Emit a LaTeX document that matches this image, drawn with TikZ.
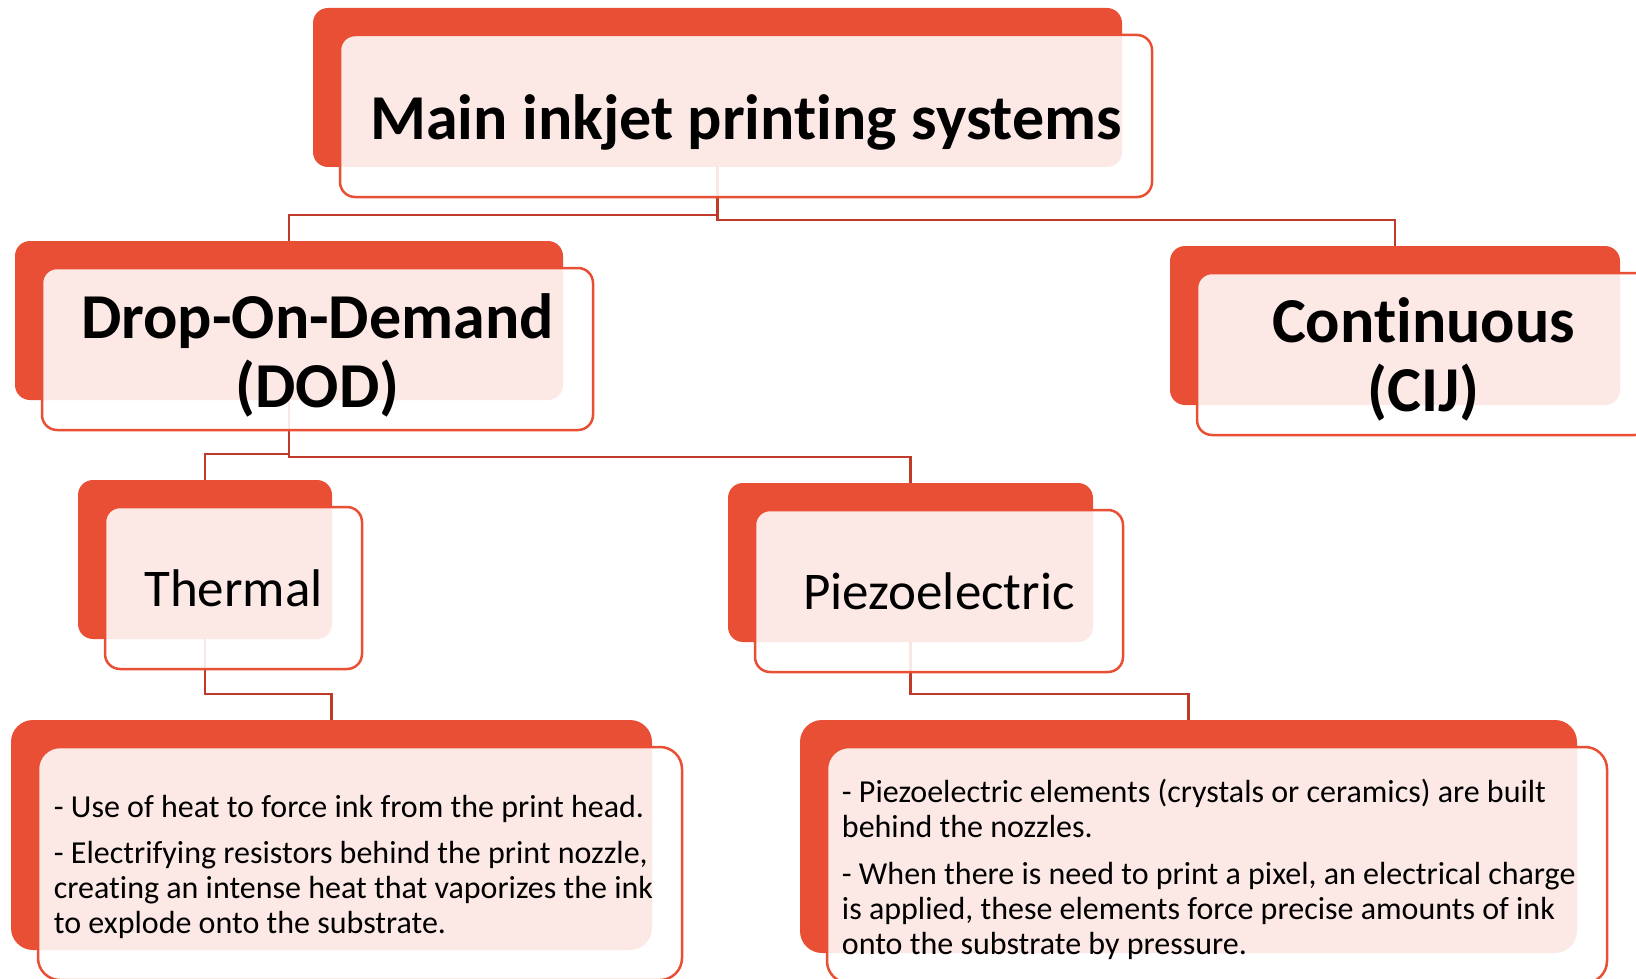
\documentclass[tikz,border=0pt]{standalone}
\usepackage{fontspec}
\setmainfont{Carlito}[Ligatures=NoCommon]
\usetikzlibrary{positioning}
\definecolor{inkred}{RGB}{232,79,52}
\definecolor{linkred}{RGB}{192,58,42}

\begin{document}
\begin{tikzpicture}[x=1pt,y=-1pt,
  back/.style 2 args={fill=inkred, rounded corners=15pt, inner sep=0pt,
    minimum width=#1pt, minimum height=#2pt},
  front/.style 2 args={draw=inkred, line width=2.5pt, fill=white, fill opacity=0.88,
    text opacity=1, rounded corners=15pt, inner sep=0pt,
    minimum width=#1pt+3pt, minimum height=#2pt+3pt, xshift=28.5pt, yshift=-28.5pt},
  link/.style={draw=linkred, line width=2.5pt},
  head/.style={font=\bfseries\fontsize{64}{69}\selectfont, align=center},
  sub/.style={font=\fontsize{53}{60}\selectfont},
  note/.style={font=\fontsize{32}{35}\selectfont, align=left, inner sep=0pt, anchor=west}]

\clip (0,0) rectangle (1636,979);

% Back plates
\node[back={809}{159}] (topB) at (717.5,87.5) {};
\node[back={548}{159}] (dodB) at (289,320.5) {};
\node[back={450}{159}] (cijB) at (1395,325.5) {};
\node[back={254}{159}] (thermB) at (205,559.5) {};
\node[back={365}{159}] (piezoB) at (910.5,562.5) {};
\node[back={641}{230}, rounded corners=22pt] (thermNoteB) at (331.5,835) {};
\node[back={777}{233}, rounded corners=22pt] (piezoNoteB) at (1188.5,836.5) {};

% Connectors
\draw[link] (topB.south) |- ([yshift=26pt]dodB.north) -- (dodB.north);
\draw[link] (topB.south) |- ([yshift=26pt]cijB.north) -- (cijB.north);
\draw[link] (dodB.south) |- ([yshift=26pt]thermB.north) -- (thermB.north);
\draw[link] (dodB.south) |- ([yshift=26pt]piezoB.north) -- (piezoB.north);
\draw[link] (thermB.south) |- ([yshift=26pt]thermNoteB.north) -- (thermNoteB.north);
\draw[link] (piezoB.south) |- ([yshift=26pt]piezoNoteB.north) -- (piezoNoteB.north);

% Front cards
\node[front={809}{159}] (top) at (topB) {};
\node[front={548}{159}] (dod) at (dodB) {};
\node[front={450}{159}] (cij) at (cijB) {};
\node[front={254}{159}, sub] (therm) at (thermB) {Thermal};
\node[front={365}{159}, sub] (piezo) at (piezoB) {Piezoelectric};
\node[front={641}{230}, rounded corners=22pt] (thermNote) at (thermNoteB) {};
\node[front={777}{233}, rounded corners=22pt] (piezoNote) at (piezoNoteB) {};

% Texts
\node[head] (topText) at ([yshift=-6pt]top.center) {Main inkjet printing systems};
\node[head] (dodText) at ([yshift=-6pt]dod.center) {Drop-On-Demand\\(DOD)};
\node[head] (cijText) at ([yshift=-5pt]cij.center) {Continuous\\(CIJ)};
\node[note] (thermNoteText) at ([xshift=17pt,yshift=-3pt]thermNote.west)
  {- Use of heat to force ink from the print head.\\[11pt]
   - Electrifying resistors behind the print nozzle,\\
   creating an intense heat that vaporizes the ink\\
   to explode onto the substrate.};
\node[note] (piezoNoteText) at ([xshift=16pt,yshift=-4pt]piezoNote.west)
  {- Piezoelectric elements (crystals or ceramics) are built\\
   behind the nozzles.\\[12pt]
   - When there is need to print a pixel, an electrical charge\\
   is applied, these elements force precise amounts of ink\\
   onto the substrate by pressure.};
\end{tikzpicture}
\end{document}
